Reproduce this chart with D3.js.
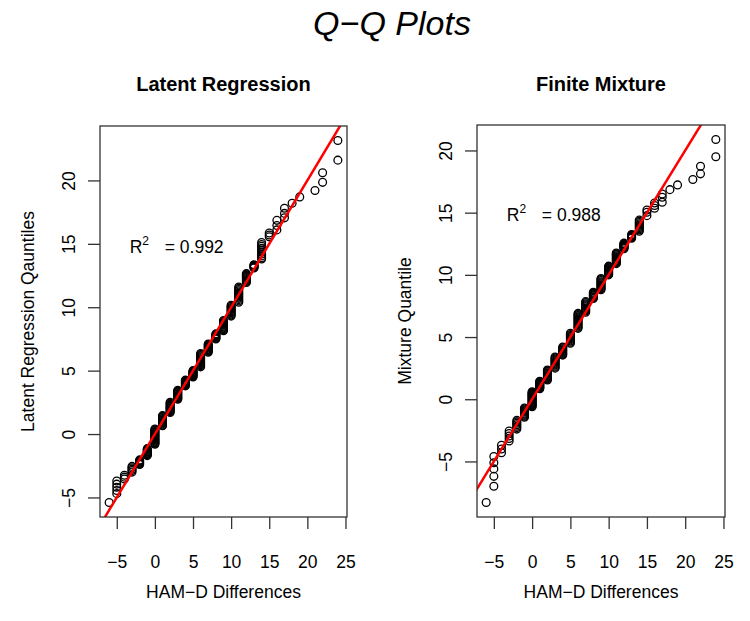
<!DOCTYPE html>
<html>
<head>
<meta charset="utf-8">
<script src="https://cdn.jsdelivr.net/npm/d3@7"></script>
<style>
  html, body { margin: 0; padding: 0; background: #ffffff; }
  svg { display: block; }
  text { font-family: "Liberation Sans", Arial, Helvetica, sans-serif; fill: #000; }
</style>
</head>
<body>
<svg id="chart" width="750" height="621"></svg>
<script>
// ---------------- DATA ----------------
const chartTitle = "Q\u2212Q Plots";
const panelTitles = ["Latent Regression", "Finite Mixture"];
const xAxisTitle = "HAM\u2212D Differences";
const yAxisTitles = ["Latent Regression Qauntiles", "Mixture Quantile"];
const rSquared = ["0.992", "0.988"];

const xTicks = [-5, 0, 5, 10, 15, 20, 25];
const yTicks = [-5, 0, 5, 10, 15, 20];

// observed HAM-D difference values (x positions of the stacks)
const hamdLevels = [-6, -5, -4, -3, -2, -1, 0, 1, 2, 3, 4, 5, 6, 7, 8, 9, 10, 11, 12, 13, 14, 15, 16, 17, 18, 19, 21, 22, 24];

// sorted latent-regression quantiles matched to each HAM-D value
const latentQuantiles = [
  [-5.4],
  [-4.7, -4.45, -4.2, -3.95, -3.7],
  [-3.55, -3.4, -3.25],
  [-3.0, -2.88, -2.77, -2.66, -2.55],
  [-2.4, -2.34, -2.28, -2.22, -2.16, -2.1, -2.04],
  [-1.7, -1.64, -1.58, -1.52, -1.46, -1.4, -1.34, -1.27, -1.21, -1.15],
  [-0.8, -0.74, -0.68, -0.62, -0.55, -0.49, -0.43, -0.37, -0.3, -0.24, -0.18, -0.11, -0.05, 0.01, 0.08, 0.14, 0.2, 0.27, 0.33, 0.4],
  [0.65, 0.72, 0.8, 0.87, 0.94, 1.01, 1.08, 1.15, 1.23, 1.3, 1.38, 1.45],
  [1.7, 1.77, 1.84, 1.92, 1.99, 2.06, 2.13, 2.2, 2.28, 2.35, 2.43, 2.5],
  [2.75, 2.81, 2.87, 2.94, 3.0, 3.06, 3.13, 3.19, 3.25, 3.32, 3.38, 3.45],
  [3.8, 3.85, 3.9, 3.95, 4.0, 4.05, 4.1, 4.15, 4.2, 4.25],
  [4.5, 4.56, 4.61, 4.67, 4.72, 4.78, 4.83, 4.89, 4.94, 5.0],
  [5.3, 5.38, 5.46, 5.54, 5.62, 5.7, 5.78, 5.86, 5.94, 6.02, 6.1, 6.18, 6.27, 6.35],
  [6.45, 6.52, 6.58, 6.65, 6.71, 6.78, 6.84, 6.91, 6.97, 7.04, 7.1],
  [7.5, 7.56, 7.61, 7.67, 7.73, 7.79, 7.84, 7.9],
  [8.15, 8.22, 8.3, 8.37, 8.44, 8.51, 8.59, 8.66, 8.73, 8.8, 8.88, 8.95],
  [9.3, 9.39, 9.47, 9.56, 9.64, 9.73, 9.81, 9.9, 9.98, 10.07, 10.15],
  [10.4, 10.5, 10.6, 10.7, 10.8, 10.9, 11.0, 11.1, 11.2, 11.3, 11.4, 11.5, 11.6],
  [11.95, 12.03, 12.11, 12.18, 12.26, 12.34, 12.42, 12.49, 12.57, 12.65],
  [13.1, 13.15, 13.2, 13.25, 13.3, 13.35],
  [13.8, 13.9, 14.05, 14.2, 14.35, 14.5, 14.65, 14.8, 14.95, 15.1],
  [15.55, 15.7, 15.85],
  [16.1, 16.45, 16.85],
  [17.05, 17.4, 17.8],
  [18.2],
  [18.7],
  [19.2],
  [19.85, 20.6],
  [21.6, 23.15]
];

// sorted finite-mixture quantiles matched to each HAM-D value
const mixtureQuantiles = [
  [-8.3],
  [-7.0, -6.2, -5.6, -5.1, -4.6],
  [-4.3, -4.0, -3.7],
  [-3.35, -3.15, -2.95, -2.75, -2.55],
  [-2.4, -2.28, -2.17, -2.05, -1.93, -1.82, -1.7],
  [-1.45, -1.37, -1.28, -1.2, -1.12, -1.03, -0.95, -0.87, -0.78, -0.7],
  [-0.6, -0.54, -0.47, -0.41, -0.35, -0.28, -0.22, -0.16, -0.09, -0.03, 0.03, 0.09, 0.16, 0.22, 0.28, 0.35, 0.41, 0.47, 0.54, 0.6],
  [0.85, 0.9, 0.96, 1.01, 1.07, 1.12, 1.18, 1.23, 1.29, 1.34, 1.4, 1.45],
  [1.55, 1.62, 1.7, 1.77, 1.84, 1.91, 1.99, 2.06, 2.13, 2.2, 2.28, 2.35],
  [2.5, 2.58, 2.66, 2.75, 2.83, 2.91, 2.99, 3.07, 3.15, 3.24, 3.32, 3.4],
  [3.55, 3.62, 3.69, 3.77, 3.84, 3.91, 3.98, 4.06, 4.13, 4.2],
  [4.5, 4.59, 4.68, 4.77, 4.86, 4.94, 5.03, 5.12, 5.21, 5.3],
  [5.7, 5.79, 5.88, 5.98, 6.07, 6.16, 6.25, 6.35, 6.44, 6.53, 6.62, 6.72, 6.81, 6.9],
  [7.0, 7.09, 7.17, 7.26, 7.34, 7.43, 7.51, 7.6, 7.68, 7.77, 7.85],
  [8.1, 8.17, 8.24, 8.31, 8.39, 8.46, 8.53, 8.6],
  [8.8, 8.88, 8.96, 9.05, 9.13, 9.21, 9.29, 9.37, 9.45, 9.54, 9.62, 9.7],
  [10.0, 10.07, 10.14, 10.21, 10.28, 10.35, 10.42, 10.49, 10.56, 10.63, 10.7],
  [10.9, 10.97, 11.04, 11.11, 11.18, 11.25, 11.32, 11.39, 11.46, 11.54, 11.61, 11.68, 11.75],
  [12.1, 12.15, 12.2, 12.25, 12.3, 12.35, 12.4, 12.45, 12.5, 12.55],
  [12.95, 13.01, 13.07, 13.13, 13.19, 13.25],
  [13.5, 13.6, 13.7, 13.8, 13.9, 14.0, 14.1, 14.2, 14.3, 14.4],
  [14.76, 15.03, 15.21],
  [15.35, 15.57, 15.78],
  [15.84, 16.24, 16.5],
  [16.85],
  [17.23],
  [17.66],
  [18.12, 18.73],
  [19.5, 20.88]
];

// reference line y = a + b x
const refLine = { intercept: 0, slope: 1 };
// annotation anchor (data units)
const annotAnchor = { x: -3.3, y: 14.3 };

// ---------------- DRAW ----------------
const svg = d3.select("#chart");

svg.append("text")
  .attr("x", 392).attr("y", 35)
  .attr("text-anchor", "middle")
  .style("font-size", "34px").style("font-style", "italic")
  .text(chartTitle);

const panels = [
  { box: { l: 100, r: 347, t: 126, b: 517 }, q: latentQuantiles },
  { box: { l: 477, r: 725, t: 125, b: 517 }, q: mixtureQuantiles }
];

function rExtend(ext) {
  const d = (ext[1] - ext[0]) * 0.04;
  return [ext[0] - d, ext[1] + d];
}

panels.forEach((p, i) => {
  const pts = [];
  hamdLevels.forEach((xv, k) => p.q[k].forEach(yv => pts.push([xv, yv])));

  const x = d3.scaleLinear().domain(rExtend(d3.extent(pts, d => d[0]))).range([p.box.l, p.box.r]);
  const y = d3.scaleLinear().domain(rExtend(d3.extent(pts, d => d[1]))).range([p.box.b, p.box.t]);

  const g = svg.append("g");
  const clipId = "clip" + i;
  svg.append("clipPath").attr("id", clipId)
    .append("rect")
    .attr("x", p.box.l).attr("y", p.box.t)
    .attr("width", p.box.r - p.box.l).attr("height", p.box.b - p.box.t);

  // points
  g.append("g").selectAll("circle").data(pts).join("circle")
    .attr("cx", d => x(d[0])).attr("cy", d => y(d[1]))
    .attr("r", 3.9)
    .attr("fill", "none").attr("stroke", "#000").attr("stroke-width", 1.3);

  // reference line
  const xd = x.domain();
  g.append("line")
    .attr("clip-path", `url(#${clipId})`)
    .attr("x1", x(xd[0] - 5)).attr("y1", y(refLine.intercept + refLine.slope * (xd[0] - 5)))
    .attr("x2", x(xd[1] + 5)).attr("y2", y(refLine.intercept + refLine.slope * (xd[1] + 5)))
    .attr("stroke", "#ff0000").attr("stroke-width", 2.5);

  // box
  g.append("rect")
    .attr("x", p.box.l).attr("y", p.box.t)
    .attr("width", p.box.r - p.box.l).attr("height", p.box.b - p.box.t)
    .attr("fill", "none").attr("stroke", "#333").attr("stroke-width", 1.3);

  // x axis
  const xa = g.append("g")
    .attr("transform", `translate(0,${p.box.b})`)
    .call(d3.axisBottom(x).tickValues(xTicks).tickSize(12).tickPadding(27));
  xa.select(".domain").remove();
  xa.selectAll(".tick line").attr("stroke", "#333").attr("stroke-width", 1.3);
  xa.selectAll(".tick text").style("font-size", "17.5px").attr("fill", "#000")
    .style("font-family", '"Liberation Sans", Arial, sans-serif');

  // y axis
  const ya = g.append("g")
    .attr("transform", `translate(${p.box.l},0)`)
    .call(d3.axisLeft(y).tickValues(yTicks).tickSize(12));
  ya.select(".domain").remove();
  ya.selectAll(".tick line").attr("stroke", "#333").attr("stroke-width", 1.3);
  ya.selectAll(".tick text")
    .attr("x", null).attr("dy", null)
    .attr("text-anchor", "middle")
    .attr("transform", "translate(-25,0) rotate(-90)")
    .style("font-size", "17.5px").attr("fill", "#000")
    .style("font-family", '"Liberation Sans", Arial, sans-serif');

  // axis titles
  g.append("text")
    .attr("x", (p.box.l + p.box.r) / 2).attr("y", 598)
    .attr("text-anchor", "middle").style("font-size", "17.5px")
    .text(xAxisTitle);
  const yc = (p.box.t + p.box.b) / 2;
  g.append("text")
    .attr("transform", `translate(${p.box.l - 66},${yc}) rotate(-90)`)
    .attr("text-anchor", "middle").style("font-size", "17.5px")
    .text(yAxisTitles[i]);

  // panel title
  g.append("text")
    .attr("x", (p.box.l + p.box.r) / 2).attr("y", 91)
    .attr("text-anchor", "middle").style("font-size", "20px").style("font-weight", "bold")
    .text(panelTitles[i]);

  // R^2 annotation
  const ax = x(annotAnchor.x), ay = y(annotAnchor.y);
  const t = g.append("text").attr("x", ax).attr("y", ay).style("font-size", "17.5px");
  t.append("tspan").text("R");
  t.append("tspan").attr("dy", -8).style("font-size", "12px").text("2");
  t.append("tspan").attr("x", ax + 35).attr("dy", 8).text("= " + rSquared[i]);
});
</script>
</body>
</html>
